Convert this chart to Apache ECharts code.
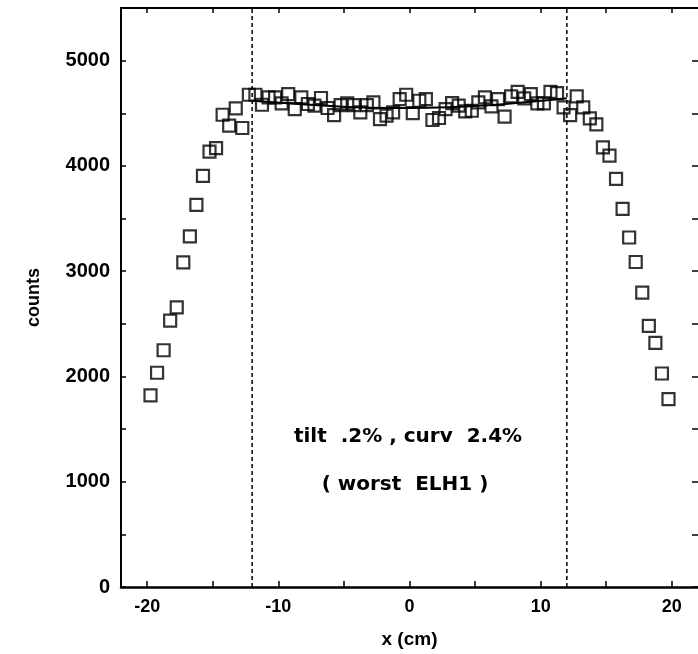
<!DOCTYPE html>
<html>
<head>
<meta charset="utf-8">
<script src="https://cdn.jsdelivr.net/npm/echarts@6/dist/echarts.min.js"></script>
<style>
html,body{margin:0;padding:0;background:#fff;}
#chart{width:698px;height:654px;}
</style>
</head>
<body>
<div id="chart"></div>
<script>
// x positions of the measured bins (cm)
const xVals = [
  -19.75,-19.25,-18.75,-18.25,-17.75,-17.25,-16.75,-16.25,-15.75,-15.25,
  -14.75,-14.25,-13.75,-13.25,-12.75,-12.25,-11.75,-11.25,-10.75,-10.25,
  -9.75,-9.25,-8.75,-8.25,-7.75,-7.25,-6.75,-6.25,-5.75,-5.25,
  -4.75,-4.25,-3.75,-3.25,-2.75,-2.25,-1.75,-1.25,-0.75,-0.25,
  0.25,0.75,1.25,1.75,2.25,2.75,3.25,3.75,4.25,4.75,
  5.25,5.75,6.25,6.75,7.25,7.75,8.25,8.75,9.25,9.75,
  10.25,10.75,11.25,11.75,12.25,12.75,13.25,13.75,14.25,14.75,
  15.25,15.75,16.25,16.75,17.25,17.75,18.25,18.75,19.25,19.75
];
// counts
const counts = [
  1820,2035,2249,2531,2657,3083,3330,3630,3905,4136,
  4168,4486,4382,4547,4360,4676,4676,4581,4651,4651,
  4594,4682,4540,4651,4588,4572,4645,4550,4483,4578,
  4594,4578,4509,4578,4604,4445,4477,4509,4635,4676,
  4502,4619,4635,4436,4455,4540,4597,4572,4518,4524,
  4604,4651,4566,4635,4468,4660,4704,4642,4682,4594,
  4594,4704,4692,4556,4483,4660,4556,4452,4395,4177,
  4098,3877,3592,3320,3087,2796,2481,2319,2028,1785
];
// fitted curve
const fitX = [-12,-9,-6,-3,0,3,6,9,12];
const fitY = [4618,4592,4568,4553,4550,4557,4577,4607,4642];
// cut positions (dashed lines)
const cutX = [-12, 12];
const yRange = [0, 5500];
const xRange = [-22, 22];
// tick labels
const xLabelVals = [-20,-10,0,10,20];
const xTickVals = [-20,-15,-10,-5,0,5,10,15,20];
const yLabelVals = [0,1000,2000,3000,4000,5000];
const yTickVals = [0,500,1000,1500,2000,2500,3000,3500,4000,4500,5000];
const annot1 = 'tilt  .2% , curv  2.4%';
const annot2 = '( worst  ELH1 )';

const chart = echarts.init(document.getElementById('chart'), null, {renderer:'canvas'});
const axisLineStyle = {color:'#000', width:2};
const option = {
  animation:false,
  backgroundColor:'#fff',
  grid:{left:121, top:8, width:579, height:581, containLabel:false},
  xAxis:[
    {type:'value', min:xRange[0], max:xRange[1], position:'bottom',
     axisLine:{show:true, onZero:false, lineStyle:{color:'#000', width:2.5}},
     axisTick:{show:true, inside:true, length:6, customValues:xTickVals, lineStyle:{color:'#000', width:1.5}},
     axisLabel:{show:true, customValues:xLabelVals, margin:11, color:'#000',
       fontFamily:'Liberation Sans', fontWeight:'bold', fontSize:18,
       formatter:(v)=>String(v)},
     splitLine:{show:false},
     name:'x (cm)', nameLocation:'middle', nameGap:43,
     nameTextStyle:{color:'#000', fontFamily:'Liberation Sans', fontWeight:'bold', fontSize:19}},
    {type:'value', min:xRange[0], max:xRange[1], position:'top',
     axisLine:{show:true, onZero:false, lineStyle:axisLineStyle},
     axisTick:{show:true, inside:true, length:5, customValues:xTickVals, lineStyle:{color:'#000', width:1.5}},
     axisLabel:{show:false}, splitLine:{show:false}}
  ],
  yAxis:[
    {type:'value', min:yRange[0], max:yRange[1], position:'left',
     axisLine:{show:true, onZero:false, lineStyle:axisLineStyle},
     axisTick:{show:true, inside:true, length:5, customValues:yTickVals, lineStyle:{color:'#000', width:1.5}},
     axisLabel:{show:true, customValues:yLabelVals, margin:11, color:'#000',
       fontFamily:'Liberation Sans', fontWeight:'bold', fontSize:20,
       formatter:(v)=>String(v)},
     splitLine:{show:false},
     name:'counts', nameLocation:'middle', nameGap:78, nameRotate:90,
     nameTextStyle:{color:'#000', fontFamily:'Liberation Sans', fontWeight:'bold', fontSize:18}},
    {type:'value', min:yRange[0], max:yRange[1], position:'right',
     axisLine:{show:false, onZero:false},
     axisTick:{show:true, inside:true, length:6, customValues:yTickVals, lineStyle:{color:'#000', width:1.5}},
     axisLabel:{show:false}, splitLine:{show:false}}
  ],
  graphic:[
    {type:'text',
     style:{text:annot1, x:408, y:437, align:'center', verticalAlign:'middle',
       fill:'#000', font:'bold 20px "DejaVu Sans"'}},
    {type:'text',
     style:{text:annot2, x:405, y:485, align:'center', verticalAlign:'middle',
       fill:'#000', font:'bold 20px "DejaVu Sans"'}}
  ],
  series:[
    {type:'line', xAxisIndex:0, yAxisIndex:0, symbol:'none', silent:true,
     lineStyle:{color:'#000', width:1.5, type:[4,3]},
     data:[[cutX[0], yRange[0]],[cutX[0], yRange[1]]], z:1},
    {type:'line', xAxisIndex:0, yAxisIndex:0, symbol:'none', silent:true,
     lineStyle:{color:'#000', width:1.5, type:[4,3]},
     data:[[cutX[1], yRange[0]],[cutX[1], yRange[1]]], z:1},
    {type:'line', xAxisIndex:0, yAxisIndex:0, symbol:'none', smooth:true, silent:true,
     lineStyle:{color:'#000', width:2},
     data:fitX.map((x,i)=>[x, fitY[i]]), z:2},
    {type:'scatter', xAxisIndex:0, yAxisIndex:0, symbol:'rect', symbolSize:12,
     itemStyle:{color:'rgba(0,0,0,0)', borderColor:'#000', borderWidth:2.2},
     data:xVals.map((x,i)=>[x, counts[i]]), z:3}
  ]
};
chart.setOption(option);
</script>
</body>
</html>
